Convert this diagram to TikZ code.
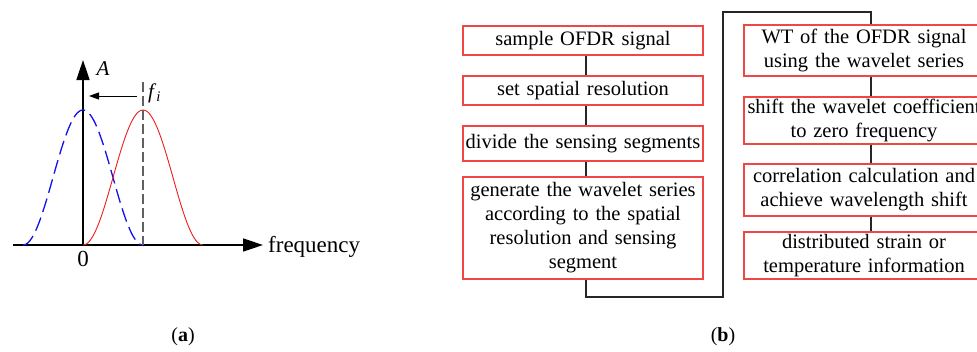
\documentclass[tikz,border=0pt]{standalone}
\usepackage{fontspec}
\setmainfont{Liberation Serif}
\usetikzlibrary{calc,arrows.meta,positioning}
\definecolor{boxRed}{RGB}{240,70,70}
\definecolor{curveBlue}{RGB}{18,18,235}
\definecolor{curveRed}{RGB}{236,28,28}
\definecolor{markGray}{RGB}{96,96,96}

\tikzset{
  flowbox/.style={draw=boxRed, line width=1.2pt, inner sep=0pt, text width=238pt,
    minimum width=240pt, align=center, font=\fontsize{20.5}{24}\selectfont},
  link/.style={line width=1.1pt, draw=black!85},
  axis/.style={line width=1.6pt, -{Triangle[length=20pt,width=13pt]}},
  axislabel/.style={inner sep=0pt, font=\fontsize{23}{27}\selectfont},
}

\begin{document}
\begin{tikzpicture}[x=1pt,y=-1pt]
    \useasboundingbox (0,0) rectangle (977,351);

    % axes
    \draw[axis] (13,245) -- (263,245);
    \draw[axis] (83,245) -- (83,60);
    \node[axislabel, anchor=base west] (freq) at (268,252) {frequency};
    \node[axislabel, anchor=base] (zero) at (83,266) {0};
    \node[axislabel, anchor=base, font=\fontsize{21}{25}\selectfont\itshape] (amp) at (103,75) {A};

    % shifted and original spectra
    \draw[curveBlue, line width=1.3pt, dash pattern=on 14pt off 6pt, smooth, samples=120, domain=23:143]
        plot (\x,{245 - 67.5*(1 + cos(3*(\x-83)))});
    \draw[curveRed, line width=0.9pt, smooth, samples=120, domain=83:203]
        plot (\x,{245 - 67.5*(1 + cos(3*(\x-143)))});

    % centre frequency marker
    \draw[markGray, line width=1.2pt, dash pattern=on 10pt off 4pt] (143,82) -- (143,245);
    \coordinate (fstart) at (137,96);
    \coordinate (fend) at (89,96);
    \draw[line width=0.9pt, -{Triangle[length=10pt,width=7pt]}] (fstart) -- (fend);
    \node[axislabel, anchor=base west, font=\fontsize{21}{25}\selectfont] (fi) at (148,98)
        {\textit{f}\textsubscript{\textit{i}}};

    % flow chart, left column
    \node[flowbox, minimum height=29pt] (sample) at (583,40.5) {sample OFDR signal};
    \node[flowbox, minimum height=29pt] (setres) at (583,90.5) {set spatial resolution};
    \node[flowbox, minimum height=35pt] (divide) at (583,143.5) {divide the sensing segments};
    \node[flowbox, minimum height=102pt] (gen) at (583,228)
        {generate the wavelet series\\according to the spatial\\resolution and sensing\\segment};

    % flow chart, right column
    \node[flowbox, minimum height=51pt] (wt) at (864,50.5)
        {WT of the OFDR signal\\using the wavelet series};
    \node[flowbox, minimum height=47pt] (shift) at (864,120.5)
        {shift the wavelet coefficient\\to zero frequency};
    \node[flowbox, minimum height=52pt] (corr) at (864,190)
        {correlation calculation and\\achieve wavelength shift};
    \node[flowbox, minimum height=47pt] (info) at (864,255.5)
        {distributed strain or\\temperature information};

    % connectors
    \coordinate (lcol) at (586,0);
    \coordinate (rcol) at (871,0);
    \draw[link] (sample.south -| lcol) -- (setres.north -| lcol);
    \draw[link] (setres.south -| lcol) -- (divide.north -| lcol);
    \draw[link] (divide.south -| lcol) -- (gen.north -| lcol);
    \draw[link] (wt.south -| rcol) -- (shift.north -| rcol);
    \draw[link] (shift.south -| rcol) -- (corr.north -| rcol);
    \draw[link] (corr.south -| rcol) -- (info.north -| rcol);
    \coordinate (lowbend) at (723,297);
    \coordinate (topbend) at (723,12);
    \draw[link] (gen.south -| lcol) |- (lowbend) -- (topbend) -| (wt.north -| rcol);

    % captions
    \node[font=\fontsize{20}{24}\selectfont] (capa) at (183,337) {(\textbf{a})};
    \node[font=\fontsize{20}{24}\selectfont] (capb) at (723,337) {(\textbf{b})};
\end{tikzpicture}
\end{document}
